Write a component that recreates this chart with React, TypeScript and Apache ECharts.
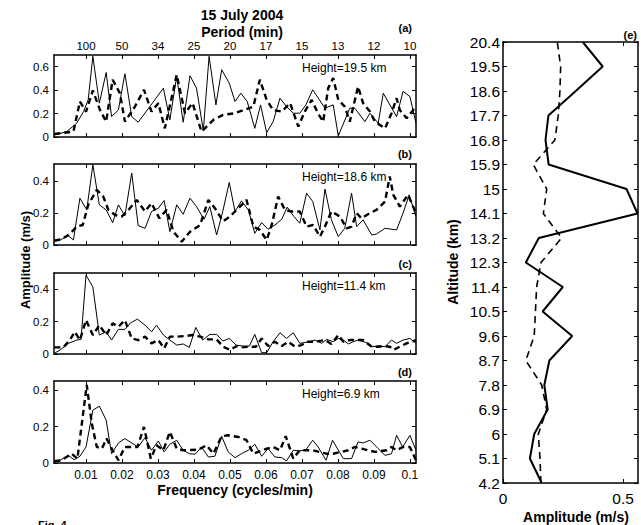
import React, { useEffect, useRef } from "react";
import * as echarts from "echarts";

const FONT = "'Liberation Sans', Arial, Helvetica, sans-serif";

// Frequency axis (cycles/min) ticks and the matching period (min) labels
const freqTicks = [0.01, 0.02, 0.03, 0.04, 0.05, 0.06, 0.07, 0.08, 0.09, 0.1];
const freqLabels = ["0.01", "0.02", "0.03", "0.04", "0.05", "0.06", "0.07", "0.08", "0.09", "0.1"];
const periodLabels = ["100", "50", "34", "25", "20", "17", "15", "13", "12", "10"];

// Panel (a) Height=19.5 km : [frequency, amplitude]
const aSolid = [
  [0.0012, 0.017], [0.0046, 0.046], [0.0074, 0.117], [0.0093, 0.217], [0.0106, 0.317], [0.0119, 0.689],
  [0.0137, 0.289], [0.0156, 0.551], [0.0171, 0.174], [0.019, 0.231], [0.0208, 0.54], [0.0227, 0.174],
  [0.0245, 0.126], [0.0315, 0.417], [0.0333, 0.146], [0.0352, 0.517], [0.037, 0.126], [0.0389, 0.523],
  [0.0407, 0.417], [0.0426, 0.054], [0.0442, 0.689], [0.0461, 0.274], [0.0477, 0.574], [0.0498, 0.46],
  [0.0514, 0.303], [0.053, 0.374], [0.0548, 0.303], [0.0569, 0.074], [0.0585, 0.274], [0.0602, 0.037],
  [0.062, 0.131], [0.0639, 0.331], [0.0657, 0.26], [0.0676, 0.203], [0.0694, 0.203], [0.0711, 0.274],
  [0.073, 0.403], [0.0764, 0.246], [0.0787, 0.274], [0.0801, 0.009], [0.0833, 0.246], [0.0847, 0.246],
  [0.0875, 0.131], [0.0889, 0.203], [0.0912, 0.117], [0.0926, 0.374], [0.0963, 0.174], [0.0981, 0.389],
  [0.1, 0.346], [0.1017, 0.117],
];
const aDashed = [
  [0.0012, 0.026], [0.0065, 0.046], [0.0083, 0.303], [0.01, 0.217], [0.0119, 0.397], [0.0139, 0.23],
  [0.0156, 0.131], [0.0174, 0.489], [0.0194, 0.374], [0.0208, 0.131], [0.0236, 0.26], [0.0261, 0.403],
  [0.0282, 0.217], [0.0301, 0.289], [0.0319, 0.074], [0.0352, 0.531], [0.0375, 0.203], [0.0396, 0.289],
  [0.0421, 0.046], [0.0454, 0.146], [0.0481, 0.189], [0.0514, 0.203], [0.0565, 0.26], [0.0583, 0.489],
  [0.0602, 0.317], [0.062, 0.23], [0.0644, 0.217], [0.0667, 0.289], [0.069, 0.089], [0.0708, 0.217],
  [0.0727, 0.317], [0.0745, 0.2], [0.0759, 0.13], [0.0773, 0.417], [0.0787, 0.503], [0.0801, 0.317],
  [0.0819, 0.26], [0.0833, 0.131], [0.0856, 0.431], [0.087, 0.289], [0.0889, 0.217], [0.0903, 0.131],
  [0.0931, 0.074], [0.0949, 0.203], [0.0963, 0.331], [0.0972, 0.23], [0.0991, 0.16], [0.1017, 0.26],
];

// Panel (b) Height=18.6 km
const bSolid = [
  [0.0012, 0.032], [0.0028, 0.032], [0.0051, 0.057], [0.0065, 0.032], [0.0083, 0.295], [0.0102, 0.221],
  [0.0119, 0.505], [0.0137, 0.253], [0.0156, 0.221], [0.0174, 0.141], [0.019, 0.253], [0.0208, 0.183],
  [0.0227, 0.453], [0.0245, 0.122], [0.0264, 0.105], [0.0282, 0.211], [0.0301, 0.232], [0.0317, 0.28],
  [0.0333, 0.084], [0.0352, 0.253], [0.037, 0.194], [0.0389, 0.295], [0.0407, 0.242], [0.0428, 0.162],
  [0.0444, 0.242], [0.0463, 0.063], [0.048, 0.211], [0.0498, 0.394], [0.0514, 0.211], [0.0532, 0.278],
  [0.0551, 0.221], [0.0569, 0.074], [0.0588, 0.141], [0.0606, 0.099], [0.0625, 0.126], [0.0644, 0.162],
  [0.0659, 0.238], [0.0678, 0.179], [0.0694, 0.137], [0.0713, 0.326], [0.073, 0.274], [0.075, 0.095],
  [0.0764, 0.352], [0.0782, 0.158], [0.0801, 0.053], [0.0819, 0.105], [0.0838, 0.326], [0.0852, 0.116],
  [0.087, 0.158], [0.0894, 0.063], [0.0907, 0.069], [0.0931, 0.105], [0.0963, 0.095], [0.0981, 0.2],
  [0.0998, 0.316], [0.1017, 0.179],
];
const bDashed = [
  [0.0012, 0.027], [0.0032, 0.036], [0.0055, 0.069], [0.0074, 0.116], [0.0091, 0.126], [0.0106, 0.253],
  [0.013, 0.347], [0.0148, 0.305], [0.0162, 0.221], [0.0181, 0.189], [0.0199, 0.179], [0.0218, 0.221],
  [0.0241, 0.284], [0.0264, 0.211], [0.0282, 0.263], [0.0304, 0.168], [0.0324, 0.221], [0.0343, 0.084],
  [0.0366, 0.021], [0.0389, 0.084], [0.0417, 0.126], [0.044, 0.284], [0.0458, 0.232], [0.0481, 0.15],
  [0.05, 0.179], [0.0514, 0.211], [0.0546, 0.284], [0.0565, 0.116], [0.0583, 0.095], [0.0602, 0.032],
  [0.0616, 0.126], [0.0634, 0.305], [0.0653, 0.221], [0.0671, 0.211], [0.0694, 0.211], [0.0713, 0.116],
  [0.0731, 0.126], [0.075, 0.053], [0.0764, 0.116], [0.0782, 0.211], [0.0806, 0.179], [0.0824, 0.105],
  [0.0838, 0.116], [0.0852, 0.2], [0.0866, 0.168], [0.088, 0.189], [0.0907, 0.221], [0.0931, 0.274],
  [0.0944, 0.432], [0.0954, 0.316], [0.0972, 0.242], [0.0995, 0.316], [0.1017, 0.2],
];

// Panel (c) Height=11.4 km
const cSolid = [
  [0.0012, 0.004], [0.0028, 0.025], [0.0051, 0.066], [0.0074, 0.086], [0.0086, 0.09], [0.01, 0.486],
  [0.0119, 0.414], [0.0137, 0.117], [0.0156, 0.137], [0.0171, 0.086], [0.019, 0.152], [0.0208, 0.152],
  [0.0224, 0.193], [0.0243, 0.215], [0.0264, 0.178], [0.0282, 0.137], [0.0296, 0.178], [0.0315, 0.117],
  [0.0333, 0.086], [0.0352, 0.055], [0.037, 0.062], [0.0387, 0.041], [0.0405, 0.164], [0.0424, 0.086],
  [0.0444, 0.121], [0.0463, 0.121], [0.048, 0.08], [0.0498, 0.096], [0.0517, 0.055], [0.0535, 0.049],
  [0.0554, 0.049], [0.0569, 0.121], [0.0588, 0.008], [0.0602, 0.008], [0.062, 0.076], [0.0639, 0.131],
  [0.0657, 0.096], [0.0676, 0.131], [0.0694, 0.066], [0.0722, 0.076], [0.0736, 0.086], [0.0755, 0.066],
  [0.0769, 0.09], [0.0787, 0.076], [0.0801, 0.096], [0.0815, 0.086], [0.0829, 0.062], [0.0843, 0.076],
  [0.0856, 0.086], [0.088, 0.07], [0.0894, 0.045], [0.0912, 0.049], [0.0931, 0.045], [0.0949, 0.086],
  [0.0963, 0.066], [0.0981, 0.086], [0.1, 0.096], [0.1017, 0.066],
];
const cDashed = [
  [0.0012, 0.041], [0.0037, 0.041], [0.0055, 0.086], [0.0069, 0.137], [0.0083, 0.086], [0.01, 0.209],
  [0.0119, 0.117], [0.0137, 0.178], [0.0156, 0.117], [0.0174, 0.189], [0.019, 0.168], [0.0208, 0.209],
  [0.0227, 0.096], [0.0245, 0.086], [0.0264, 0.107], [0.0282, 0.066], [0.0301, 0.086], [0.0317, 0.035],
  [0.0333, 0.107], [0.0352, 0.107], [0.0375, 0.111], [0.0396, 0.117], [0.0417, 0.107], [0.044, 0.09],
  [0.0463, 0.09], [0.0481, 0.045], [0.05, 0.025], [0.0519, 0.049], [0.0532, 0.041], [0.0554, 0.045],
  [0.0572, 0.045], [0.0588, 0.096], [0.0606, 0.049], [0.0625, 0.076], [0.0644, 0.049], [0.0662, 0.076],
  [0.0681, 0.045], [0.0699, 0.055], [0.0713, 0.076], [0.0736, 0.076], [0.0764, 0.086], [0.0782, 0.062],
  [0.0801, 0.117], [0.0815, 0.076], [0.0833, 0.086], [0.0852, 0.086], [0.087, 0.086], [0.0894, 0.045],
  [0.0912, 0.045], [0.0926, 0.049], [0.0944, 0.045], [0.0954, 0.025], [0.0972, 0.045], [0.0991, 0.066],
  [0.1017, 0.086],
];

// Panel (d) Height=6.9 km
const dSolid = [
  [0.0012, 0.015], [0.0028, 0.015], [0.0051, 0.042], [0.0067, 0.018], [0.0083, 0.037], [0.01, 0.088],
  [0.0119, 0.29], [0.0137, 0.312], [0.0156, 0.235], [0.0171, 0.051], [0.019, 0.11], [0.0208, 0.134],
  [0.0227, 0.11], [0.0245, 0.088], [0.0264, 0.139], [0.0282, 0.07], [0.0301, 0.121], [0.0317, 0.061],
  [0.0333, 0.103], [0.0352, 0.125], [0.037, 0.07], [0.0387, 0.051], [0.0403, 0.048], [0.0421, 0.088],
  [0.044, 0.033], [0.0458, 0.037], [0.0477, 0.147], [0.0495, 0.061], [0.0514, 0.029], [0.0532, 0.051],
  [0.0551, 0.07], [0.0569, 0.103], [0.0588, 0.037], [0.0606, 0.079], [0.0625, 0.033], [0.0644, 0.029],
  [0.0657, 0.011], [0.0676, 0.07], [0.0694, 0.066], [0.0711, 0.073], [0.073, 0.125], [0.0745, 0.088],
  [0.0767, 0.015], [0.0785, 0.125], [0.0815, 0.024], [0.0838, 0.024], [0.0856, 0.116], [0.087, 0.11],
  [0.0889, 0.125], [0.0912, 0.079], [0.0931, 0.042], [0.0949, 0.051], [0.0963, 0.152], [0.098, 0.088],
  [0.1, 0.152], [0.1017, 0.07],
];
const dDashed = [
  [0.0012, 0.009], [0.0032, 0.015], [0.006, 0.051], [0.0076, 0.024], [0.0102, 0.428], [0.0116, 0.217],
  [0.013, 0.088], [0.0144, 0.079], [0.0157, 0.134], [0.0174, 0.07], [0.019, 0.015], [0.0208, 0.088],
  [0.0243, 0.088], [0.0261, 0.198], [0.028, 0.024], [0.0296, 0.097], [0.0315, 0.07], [0.0333, 0.171],
  [0.0352, 0.079], [0.037, 0.07], [0.0412, 0.073], [0.0435, 0.097], [0.0454, 0.051], [0.0477, 0.147],
  [0.0495, 0.152], [0.0523, 0.143], [0.0546, 0.125], [0.0565, 0.051], [0.0602, 0.079], [0.062, 0.088],
  [0.0639, 0.07], [0.0655, 0.147], [0.0676, 0.024], [0.0694, 0.07], [0.0731, 0.07], [0.0768, 0.051],
  [0.0787, 0.051], [0.0829, 0.07], [0.0847, 0.088], [0.0866, 0.079], [0.0884, 0.07], [0.0903, 0.061],
  [0.0935, 0.07], [0.0949, 0.088], [0.0963, 0.07], [0.0981, 0.088], [0.1, 0.088], [0.1017, 0.015],
];

// Panel (e): amplitude profile vs altitude
const altitudes = [4.2, 5.1, 6, 6.9, 7.8, 8.7, 9.6, 10.5, 11.4, 12.3, 13.2, 14.1, 15, 15.9, 16.8, 17.7, 18.6, 19.5, 20.4];
const eSolidAmp = [0.161, 0.112, 0.13, 0.186, 0.172, 0.193, 0.288, 0.165, 0.249, 0.095, 0.149, 0.56, 0.514, 0.19, 0.177, 0.189, 0.303, 0.415, 0.332];
const eDashedAmp = [0.158, 0.154, 0.147, 0.182, 0.161, 0.095, 0.13, 0.135, 0.14, 0.158, 0.244, 0.168, 0.182, 0.126, 0.216, 0.23, 0.237, 0.24, 0.226];
const eAmpTicks = [0, 0.5];
const eAmpLabels = ["0", "0.5"];

const panelHeights = ["Height=19.5 km", "Height=18.6 km", "Height=11.4 km", "Height=6.9 km"];
const panelTags = ["(a)", "(b)", "(c)", "(d)"];
const panelYMax = [0.7, 0.51, 0.5, 0.45];
const panelYTicks = [[0, 0.2, 0.4, 0.6], [0, 0.2, 0.4], [0, 0.2, 0.4], [0, 0.2, 0.4]];
const panelSolid = [aSolid, bSolid, cSolid, dSolid];
const panelDashed = [aDashed, bDashed, cDashed, dDashed];

// layout (pixels)
const LEFT = 54;
const WIDTH = 362;
const panelTops = [55, 164, 273, 381];
const panelH = [82, 81, 81, 82];
const tagY = [28, 154, 264, 372];
const FMIN = 0.0011;
const FMAX = 0.1017;

const nearestIdx = (arr: number[], v: number) => {
  let best = 0;
  for (let i = 1; i < arr.length; i++) if (Math.abs(arr[i] - v) < Math.abs(arr[best] - v)) best = i;
  return best;
};

const axisLine = { show: true, onZero: false, lineStyle: { color: "#000", width: 1.5 } };
const tickStyle = { color: "#000", width: 1 };

function buildOption() {
  const grid: any[] = [];
  const xAxis: any[] = [];
  const yAxis: any[] = [];
  const series: any[] = [];
  const graphic: any[] = [];

  for (let i = 0; i < 4; i++) {
    grid.push({ left: LEFT, top: panelTops[i], width: WIDTH, height: panelH[i], containLabel: false });
    xAxis.push({
      type: "value", gridIndex: i, position: "bottom", min: FMIN, max: FMAX,
      axisLine, splitLine: { show: false },
      axisTick: { show: true, inside: true, length: 4, customValues: freqTicks, lineStyle: tickStyle },
      axisLabel: {
        show: i === 3, customValues: freqTicks, color: "#000", fontSize: 12, fontFamily: FONT, margin: 6,
        formatter: (v: number) => freqLabels[nearestIdx(freqTicks, v)],
      },
    });
    xAxis.push({
      type: "value", gridIndex: i, position: "top", min: FMIN, max: FMAX,
      axisLine, splitLine: { show: false },
      axisTick: { show: true, inside: true, length: 4, customValues: freqTicks, lineStyle: tickStyle },
      axisLabel: {
        show: i === 0, customValues: freqTicks, color: "#000", fontSize: 11.5, fontFamily: FONT, margin: 3,
        formatter: (v: number) => periodLabels[nearestIdx(freqTicks, v)],
      },
    });
    const yt = panelYTicks[i];
    yAxis.push({
      type: "value", gridIndex: i, position: "left", min: 0, max: panelYMax[i],
      axisLine, splitLine: { show: false },
      axisTick: { show: true, inside: true, length: 4, customValues: yt, lineStyle: tickStyle },
      axisLabel: {
        show: true, customValues: yt, color: "#000", fontSize: 11.5, fontFamily: FONT, margin: 5,
        formatter: (v: number) => String(+v.toFixed(2)),
      },
    });
    yAxis.push({
      type: "value", gridIndex: i, position: "right", min: 0, max: panelYMax[i],
      axisLine, splitLine: { show: false },
      axisTick: { show: true, inside: true, length: 4, customValues: yt, lineStyle: tickStyle },
      axisLabel: { show: false },
    });
    series.push({
      type: "line", xAxisIndex: 2 * i, yAxisIndex: 2 * i, data: panelSolid[i],
      symbol: "none", silent: true, lineStyle: { color: "#000", width: 1 },
    });
    series.push({
      type: "line", xAxisIndex: 2 * i, yAxisIndex: 2 * i, data: panelDashed[i],
      symbol: "none", silent: true, lineStyle: { color: "#000", width: 2.4, type: [6, 4] },
    });
    graphic.push({
      type: "text", x: 412, y: tagY[i],
      style: { text: panelTags[i], fill: "#000", font: `bold 11px ${FONT}`, textAlign: "right", textVerticalAlign: "middle" },
    });
    graphic.push({
      type: "text", x: 302, y: panelTops[i] + 13,
      style: { text: panelHeights[i], fill: "#000", font: `12px ${FONT}`, textAlign: "left", textVerticalAlign: "middle" },
    });
  }

  // panel (e)
  grid.push({ left: 503, top: 42, width: 135, height: 441, containLabel: false });
  xAxis.push({
    type: "value", gridIndex: 4, position: "bottom", min: 0, max: 0.562,
    axisLine, splitLine: { show: false },
    axisTick: { show: true, inside: true, length: 4, customValues: eAmpTicks, lineStyle: tickStyle },
    axisLabel: {
      show: true, customValues: eAmpTicks, color: "#000", fontSize: 15.5, fontFamily: FONT, margin: 7,
      formatter: (v: number) => eAmpLabels[nearestIdx(eAmpTicks, v)],
    },
  });
  xAxis.push({
    type: "value", gridIndex: 4, position: "top", min: 0, max: 0.562,
    axisLine, splitLine: { show: false },
    axisTick: { show: true, inside: true, length: 4, customValues: eAmpTicks, lineStyle: tickStyle },
    axisLabel: { show: false },
  });
  yAxis.push({
    type: "value", gridIndex: 4, position: "left", min: 4.2, max: 20.4,
    axisLine, splitLine: { show: false },
    axisTick: { show: true, inside: true, length: 4, customValues: altitudes, lineStyle: tickStyle },
    axisLabel: {
      show: true, customValues: altitudes, color: "#000", fontSize: 15.5, fontFamily: FONT, margin: 3,
      formatter: (v: number) => String(altitudes[nearestIdx(altitudes, v)]),
    },
  });
  yAxis.push({
    type: "value", gridIndex: 4, position: "right", min: 4.2, max: 20.4,
    axisLine, splitLine: { show: false },
    axisTick: { show: true, inside: true, length: 4, customValues: altitudes, lineStyle: tickStyle },
    axisLabel: { show: false },
  });
  series.push({
    type: "line", xAxisIndex: 8, yAxisIndex: 8, data: altitudes.map((h, k) => [eSolidAmp[k], h]),
    symbol: "none", silent: true, lineStyle: { color: "#000", width: 2 },
  });
  series.push({
    type: "line", xAxisIndex: 8, yAxisIndex: 8, data: altitudes.map((h, k) => [eDashedAmp[k], h]),
    symbol: "none", silent: true, lineStyle: { color: "#000", width: 1.6, type: [7, 5] },
  });

  const txt = (text: string, x: number, y: number, size: number, bold: boolean, align = "center", rotation = 0) => ({
    type: "text", x, y, rotation,
    style: { text, fill: "#000", font: `${bold ? "bold " : ""}${size}px ${FONT}`, textAlign: align, textVerticalAlign: "middle" },
  });
  graphic.push(txt("15 July 2004", 242, 15, 14, true));
  graphic.push(txt("Period (min)", 242, 32, 14, true));
  graphic.push(txt("Amplitude (m/s)", 25, 260, 13, true, "center", Math.PI / 2));
  graphic.push(txt("Frequency (cycles/min)", 235, 490, 14, true));
  graphic.push(txt("(e)", 637, 35, 11, true, "right"));
  graphic.push(txt("Altitude (km)", 453, 262, 14, true, "center", Math.PI / 2));
  graphic.push(txt("Amplitude (m/s)", 576, 517, 14, true));
  graphic.push({
    type: "text", x: 38, y: 519,
    style: { text: "Fig. 4", fill: "#000", font: `bold 11px ${FONT}`, textAlign: "left", textVerticalAlign: "top" },
  });

  return {
    animation: false,
    backgroundColor: "#fff",
    grid, xAxis, yAxis, series, graphic,
  };
}

export default function App() {
  const ref = useRef<HTMLDivElement>(null);
  useEffect(() => {
    if (!ref.current) return;
    const chart = echarts.init(ref.current, undefined, { renderer: "svg" });
    chart.setOption(buildOption() as any);
    return () => chart.dispose();
  }, []);
  return (
    <div
      ref={ref}
      style={{ position: "absolute", left: 0, top: 0, width: 641, height: 525, background: "#fff" }}
    />
  );
}
